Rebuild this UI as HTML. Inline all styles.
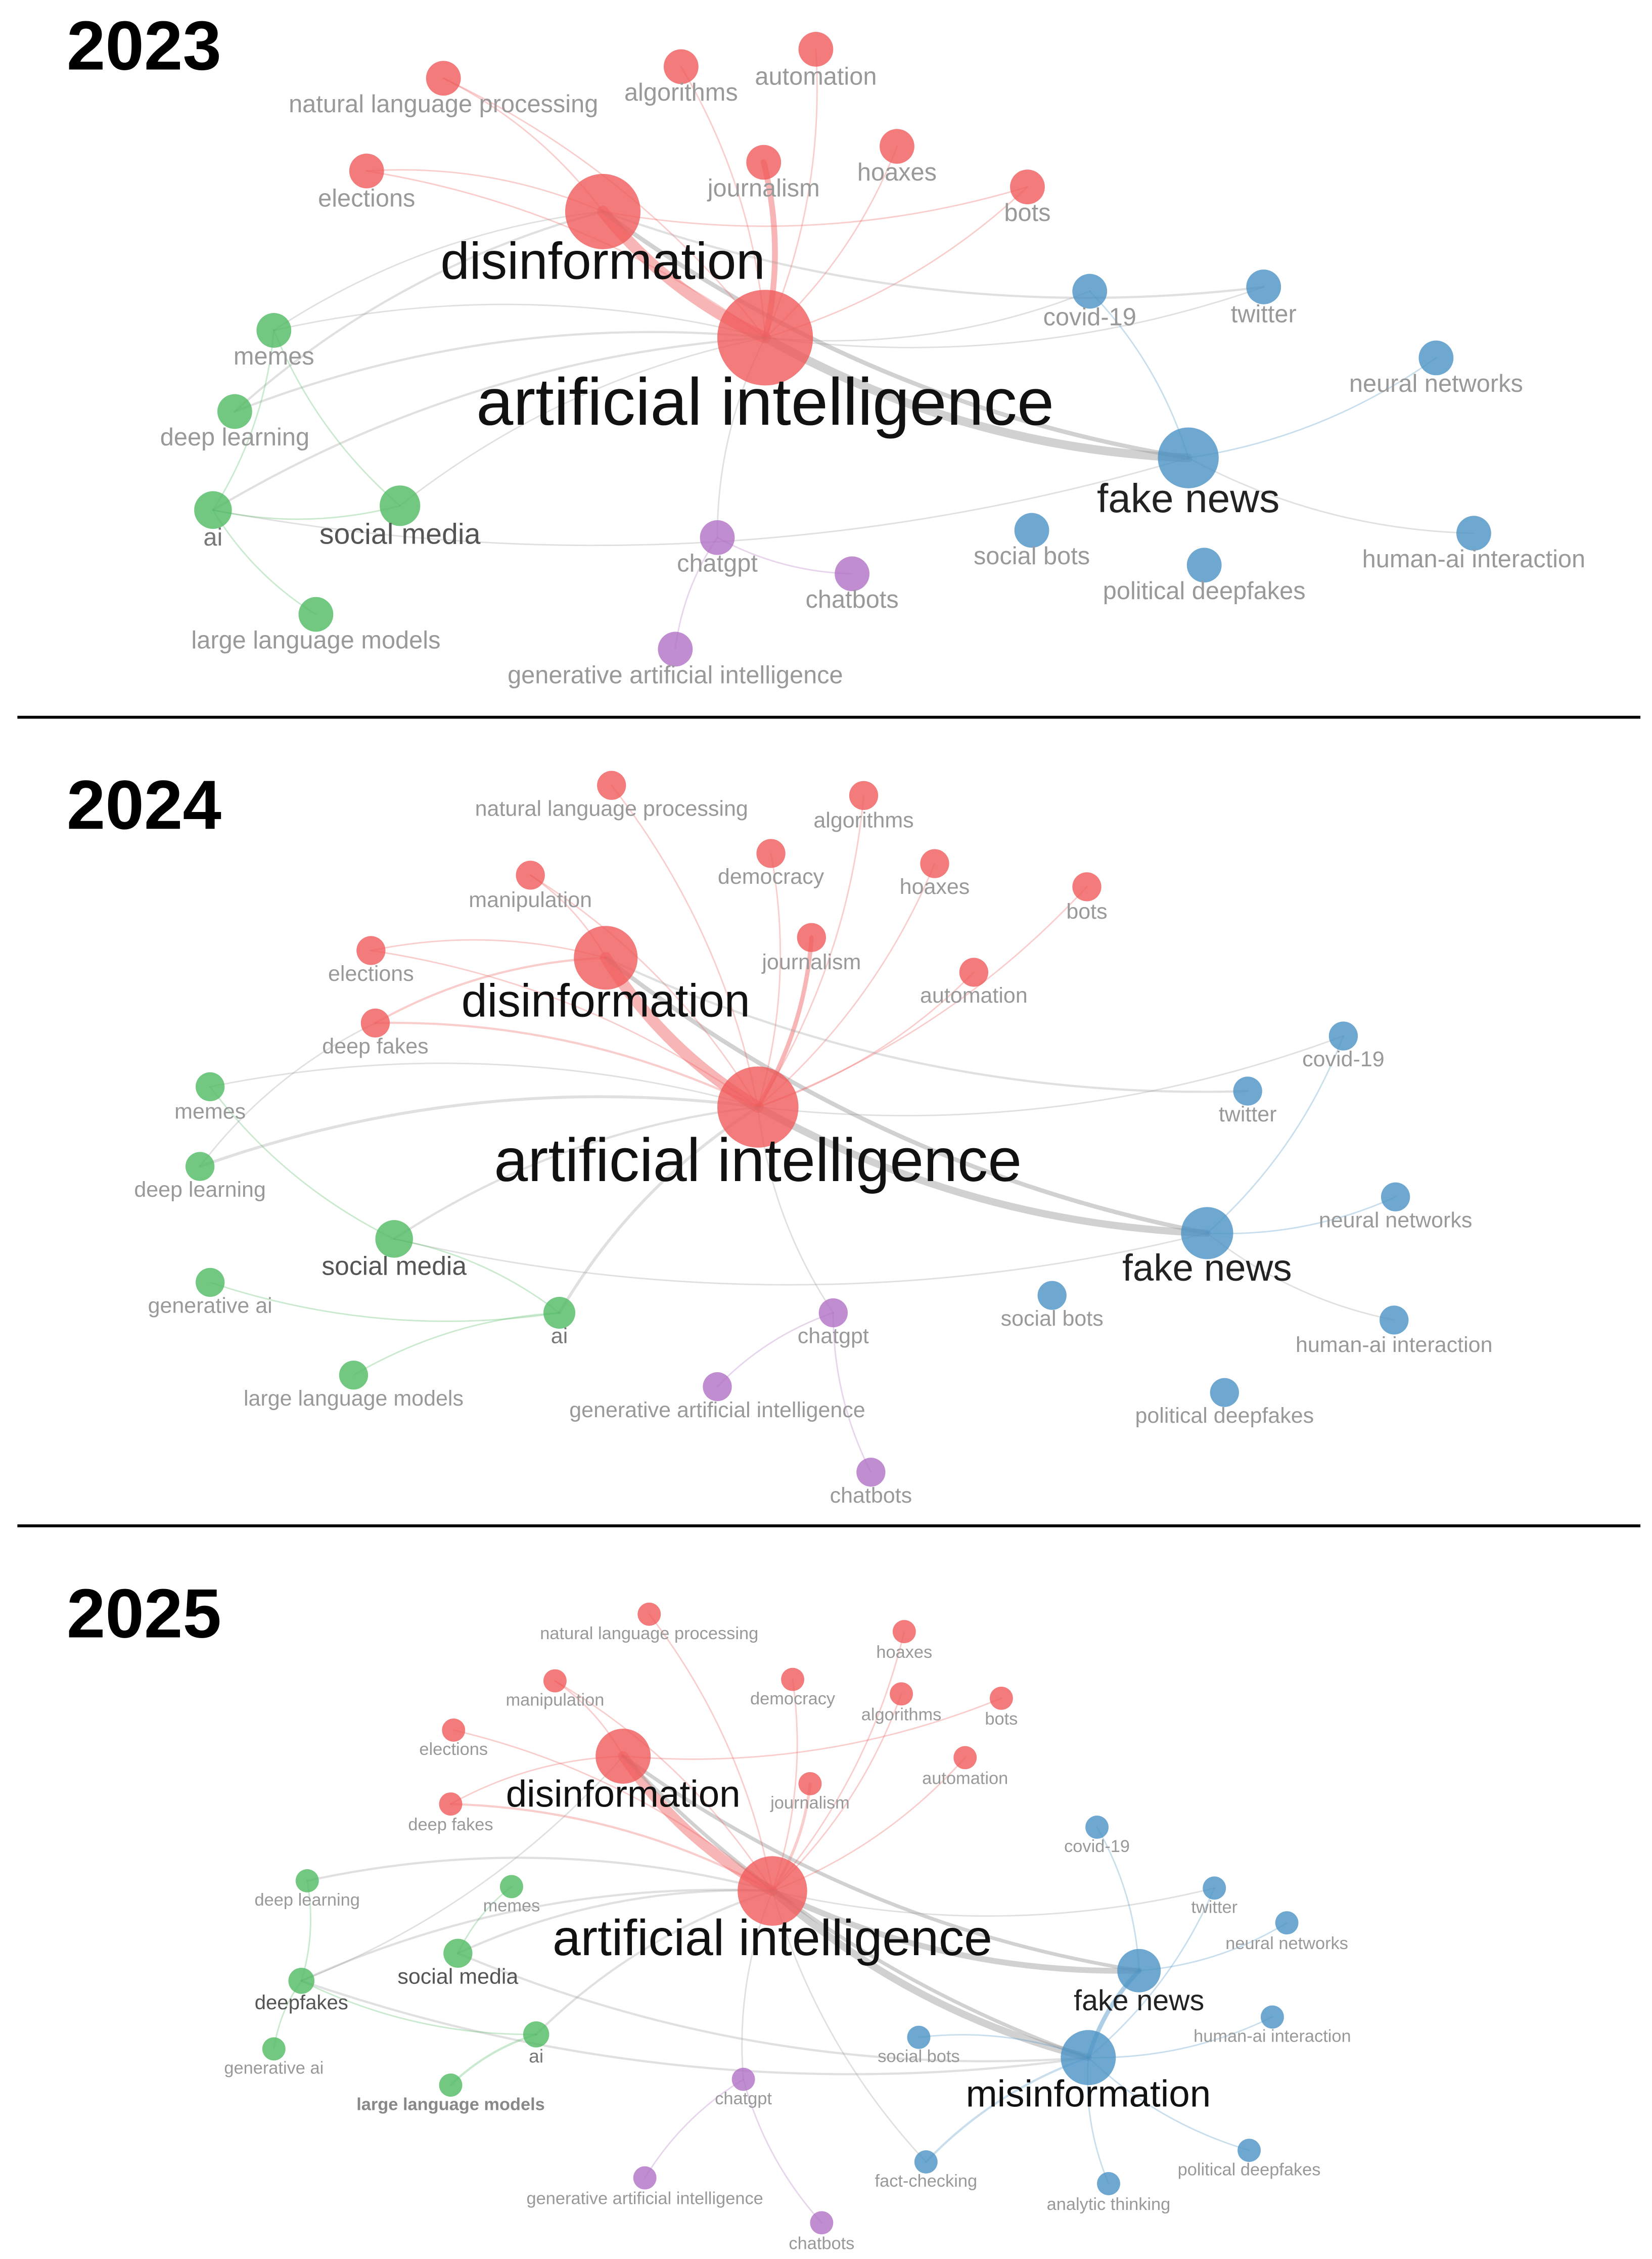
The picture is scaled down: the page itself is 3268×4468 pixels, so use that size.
<!DOCTYPE html>
<html><head><meta charset="utf-8">
<style>
html,body{margin:0;padding:0;background:#fff;}
svg{display:block;}
text{font-family:"Liberation Sans",Arial,sans-serif;}
</style></head>
<body>
<svg id="chart" width="3268" height="4468" viewBox="0 0 1140 1559" preserveAspectRatio="none" xmlns="http://www.w3.org/2000/svg">
<rect x="0" y="0" width="1140" height="1559" fill="#fff"/>
<g id="edges"></g><g id="nodes"></g><g id="labels"></g>
<line x1="12" y1="495" x2="1132" y2="495" stroke="#000" stroke-width="2"/>
<line x1="12" y1="1053" x2="1132" y2="1053" stroke="#000" stroke-width="2"/>
<text x="46" y="48" font-size="48" font-weight="bold">2023</text>
<text x="46" y="572" font-size="48" font-weight="bold">2024</text>
<text x="46" y="1130" font-size="48" font-weight="bold">2025</text>
</svg>
<script>
// cluster colors
const clusterColors = {r:"#f05a5a", b:"#4a92c4", g:"#4fba62", p:"#b070c4"};
const edgeColors = {r:"#f05a5a", b:"#4a92c4", g:"#4fba62", p:"#b070c4", n:"#999"};
// nodes: [label, x, y, radius, cluster, labelY, fontSize, labelColor]
const nodes2023 = [
 ["disinformation",416,146,26,"r",183,36,"#111"],
 ["artificial intelligence",528,233,33,"r",281,46,"#111"],
 ["fake news",820,316,21,"b",346,28,"#222"],
 ["natural language processing",306,54,12,"r",73,17,"#999"],
 ["algorithms",470,46,12,"r",65,17,"#999"],
 ["automation",563,34,12,"r",54,17,"#999"],
 ["elections",253,118,12,"r",138,17,"#999"],
 ["journalism",527,112,12,"r",131,17,"#999"],
 ["hoaxes",619,101,12,"r",120,17,"#999"],
 ["bots",709,129,12,"r",148,17,"#999"],
 ["covid-19",752,201,12,"b",220,17,"#999"],
 ["twitter",872,198,12,"b",218,17,"#999"],
 ["neural networks",991,247,12,"b",266,17,"#999"],
 ["human-ai interaction",1017,368,12,"b",387,17,"#999"],
 ["political deepfakes",831,390,12,"b",409,17,"#999"],
 ["social bots",712,366,12,"b",385,17,"#999"],
 ["chatgpt",495,371,12,"p",390,17,"#999"],
 ["chatbots",588,396,12,"p",415,17,"#999"],
 ["generative artificial intelligence",466,448,12,"p",467,17,"#999"],
 ["memes",189,228,12,"g",247,17,"#999"],
 ["deep learning",162,284,12,"g",303,17,"#999"],
 ["ai",147,352,13,"g",372,17,"#777"],
 ["social media",276,349,14,"g",370,20,"#555"],
 ["large language models",218,424,12,"g",443,17,"#999"]
];
const edges2023 = [
 ["disinformation","artificial intelligence",8,"r"],["artificial intelligence","journalism",4,"r"],
 ["artificial intelligence","fake news",6,"n"],["disinformation","fake news",3,"n"],
 ["artificial intelligence","natural language processing",1,"r"],["artificial intelligence","algorithms",1,"r"],
 ["artificial intelligence","automation",1,"r"],["artificial intelligence","elections",1,"r"],
 ["artificial intelligence","hoaxes",1,"r"],["artificial intelligence","bots",1,"r"],
 ["disinformation","natural language processing",1,"r"],["disinformation","elections",1,"r"],["disinformation","bots",1,"r"],
 ["disinformation","twitter",1.5,"n"],["artificial intelligence","covid-19",1,"n"],["artificial intelligence","twitter",1,"n"],
 ["artificial intelligence","deep learning",1.5,"n"],["artificial intelligence","ai",1.5,"n"],["artificial intelligence","memes",1,"n"],
 ["artificial intelligence","social media",1,"n"],["artificial intelligence","chatgpt",1,"n"],["ai","fake news",1,"n"],
 ["disinformation","memes",1,"n"],["disinformation","deep learning",1.5,"n"],["fake news","neural networks",1,"b"],
 ["fake news","human-ai interaction",1,"n"],["fake news","covid-19",1,"b"],["ai","large language models",1,"g"],
 ["ai","memes",1,"g"],["memes","social media",1,"g"],["chatgpt","chatbots",1,"p"],["chatgpt","generative artificial intelligence",1,"p"],
 ["ai","social media",1,"g"]
];
const nodes2024 = [
 ["disinformation",418,661,22,"r",693,32,"#111"],
 ["artificial intelligence",523,764,28,"r",804,42,"#111"],
 ["fake news",833,851,18,"b",877,26,"#222"],
 ["natural language processing",422,542,10,"r",559,15,"#999"],
 ["algorithms",596,549,10,"r",567,15,"#999"],
 ["democracy",532,589,10,"r",606,15,"#999"],
 ["hoaxes",645,596,10,"r",613,15,"#999"],
 ["manipulation",366,604,10,"r",622,15,"#999"],
 ["bots",750,612,10,"r",630,15,"#999"],
 ["journalism",560,647,10,"r",665,15,"#999"],
 ["automation",672,671,10,"r",688,15,"#999"],
 ["elections",256,656,10,"r",673,15,"#999"],
 ["deep fakes",259,706,10,"r",723,15,"#999"],
 ["covid-19",927,715,10,"b",732,15,"#999"],
 ["twitter",861,753,10,"b",770,15,"#999"],
 ["neural networks",963,826,10,"b",843,15,"#999"],
 ["human-ai interaction",962,911,10,"b",929,15,"#999"],
 ["political deepfakes",845,961,10,"b",978,15,"#999"],
 ["social bots",726,894,10,"b",911,15,"#999"],
 ["chatgpt",575,906,10,"p",923,15,"#999"],
 ["generative artificial intelligence",495,957,10,"p",974,15,"#999"],
 ["chatbots",601,1016,10,"p",1033,15,"#999"],
 ["memes",145,750,10,"g",768,15,"#999"],
 ["deep learning",138,805,10,"g",822,15,"#999"],
 ["social media",272,855,13,"g",875,18,"#555"],
 ["generative ai",145,885,10,"g",902,15,"#999"],
 ["ai",386,906,11,"g",923,15,"#777"],
 ["large language models",244,949,10,"g",966,15,"#999"]
];
const edges2024 = [
 ["disinformation","artificial intelligence",8,"r"],["artificial intelligence","journalism",3,"r"],
 ["artificial intelligence","fake news",5,"n"],["disinformation","fake news",3,"n"],
 ["artificial intelligence","natural language processing",1,"r"],["artificial intelligence","algorithms",1,"r"],
 ["artificial intelligence","democracy",1,"r"],["artificial intelligence","hoaxes",1,"r"],["artificial intelligence","manipulation",1,"r"],
 ["artificial intelligence","bots",1,"r"],["artificial intelligence","automation",1,"r"],["artificial intelligence","elections",1,"r"],
 ["artificial intelligence","deep fakes",1.5,"r"],["disinformation","deep fakes",1.5,"r"],["disinformation","elections",1,"r"],
 ["disinformation","manipulation",1,"r"],["disinformation","twitter",1.5,"n"],["artificial intelligence","covid-19",1,"n"],
 ["artificial intelligence","deep learning",2,"n"],["artificial intelligence","social media",1.5,"n"],["artificial intelligence","ai",2,"n"],
 ["artificial intelligence","memes",1,"n"],["artificial intelligence","chatgpt",1,"n"],["social media","fake news",1,"n"],
 ["fake news","neural networks",1,"b"],["fake news","covid-19",1,"b"],["fake news","human-ai interaction",1,"n"],
 ["ai","large language models",1,"g"],["ai","social media",1,"g"],["memes","social media",1,"g"],["generative ai","ai",1,"g"],
 ["chatgpt","chatbots",1,"p"],["chatgpt","generative artificial intelligence",1,"p"],["deep fakes","deep learning",1,"n"]
];
const nodes2025 = [
 ["disinformation",430,1212,19,"r",1240,26,"#111"],
 ["artificial intelligence",533,1305,24,"r",1340,35,"#111"],
 ["fake news",786,1360,15,"b",1382,20,"#222"],
 ["misinformation",751,1420,19,"b",1447,26,"#111"],
 ["natural language processing",448,1114,8,"r",1128,12,"#999"],
 ["hoaxes",624,1126,8,"r",1141,12,"#999"],
 ["manipulation",383,1160,8,"r",1174,12,"#999"],
 ["democracy",547,1159,8,"r",1173,12,"#999"],
 ["algorithms",622,1169,8,"r",1184,12,"#999"],
 ["bots",691,1172,8,"r",1187,12,"#999"],
 ["elections",313,1194,8,"r",1208,12,"#999"],
 ["automation",666,1213,8,"r",1228,12,"#999"],
 ["journalism",559,1231,8,"r",1245,12,"#999"],
 ["deep fakes",311,1245,8,"r",1260,12,"#999"],
 ["covid-19",757,1261,8,"b",1275,12,"#999"],
 ["twitter",838,1303,8,"b",1317,12,"#999"],
 ["neural networks",888,1327,8,"b",1342,12,"#999"],
 ["human-ai interaction",878,1392,8,"b",1406,12,"#999"],
 ["political deepfakes",862,1484,8,"b",1498,12,"#999"],
 ["analytic thinking",765,1507,8,"b",1522,12,"#999"],
 ["fact-checking",639,1492,8,"b",1506,12,"#999"],
 ["social bots",634,1406,8,"b",1420,12,"#999"],
 ["chatgpt",513,1435,8,"p",1449,12,"#999"],
 ["generative artificial intelligence",445,1503,8,"p",1518,12,"#999"],
 ["chatbots",567,1534,8,"p",1549,12,"#999"],
 ["deep learning",212,1298,8,"g",1312,12,"#999"],
 ["memes",353,1302,8,"g",1316,12,"#999"],
 ["social media",316,1348,10,"g",1365,15,"#555"],
 ["deepfakes",208,1367,9,"g",1383,14,"#555"],
 ["ai",370,1404,9,"g",1420,13,"#777"],
 ["generative ai",189,1414,8,"g",1428,12,"#999"],
 ["large language models",311,1439,8,"g",1453,12,"#888"]
];
const edges2025 = [
 ["disinformation","artificial intelligence",7,"r"],["artificial intelligence","journalism",2,"r"],
 ["artificial intelligence","fake news",4,"n"],["artificial intelligence","misinformation",5,"n"],
 ["disinformation","fake news",2.5,"n"],["disinformation","misinformation",2.5,"n"],["fake news","misinformation",3,"b"],
 ["artificial intelligence","natural language processing",1,"r"],["artificial intelligence","hoaxes",1,"r"],
 ["artificial intelligence","algorithms",1,"r"],["artificial intelligence","democracy",1,"r"],["artificial intelligence","automation",1,"r"],
 ["artificial intelligence","manipulation",1,"r"],["artificial intelligence","elections",1,"r"],["artificial intelligence","deep fakes",1.5,"r"],
 ["disinformation","deep fakes",1,"r"],["disinformation","manipulation",1,"r"],["disinformation","bots",1,"r"],
 ["artificial intelligence","deep learning",1.5,"n"],["artificial intelligence","deepfakes",1.5,"n"],["artificial intelligence","social media",1.5,"n"],
 ["artificial intelligence","ai",1.5,"n"],["artificial intelligence","twitter",1,"n"],["deepfakes","misinformation",1.5,"n"],
 ["social media","misinformation",1.5,"n"],["misinformation","fact-checking",1.5,"b"],["misinformation","twitter",1,"b"],
 ["misinformation","social bots",1,"b"],["misinformation","human-ai interaction",1,"b"],["misinformation","political deepfakes",1,"b"],
 ["misinformation","analytic thinking",1,"b"],["fake news","covid-19",1,"b"],["fake news","neural networks",1,"b"],
 ["ai","large language models",1.5,"g"],["deepfakes","ai",1,"g"],["deepfakes","deep learning",1,"g"],["deepfakes","generative ai",1,"g"],
 ["deepfakes","disinformation",1,"n"],["chatgpt","chatbots",1,"p"],["chatgpt","generative artificial intelligence",1,"p"],
 ["artificial intelligence","chatgpt",1,"n"],["artificial intelligence","fact-checking",1,"n"],["memes","social media",1,"g"]
];
const panels = [["2023",nodes2023,edges2023],["2024",nodes2024,edges2024],["2025",nodes2025,edges2025]];
const NS = "http://www.w3.org/2000/svg";
const gE = document.getElementById("edges"), gN = document.getElementById("nodes"), gL = document.getElementById("labels");
function slug(s){return s.toLowerCase().replace(/[^a-z0-9]+/g,"-");}
panels.forEach(([yr,nodes,edges])=>{
  const idx = {}; nodes.forEach(n=>idx[n[0]]=n);
  edges.forEach(([a,b,w,c])=>{
    const A=idx[a],B=idx[b]; if(!A||!B) return;
    const mx=(A[1]+B[1])/2,my=(A[2]+B[2])/2,dx=B[1]-A[1],dy=B[2]-A[2];
    const cx=mx-dy*0.12,cy=my+dx*0.12;
    const p=document.createElementNS(NS,"path");
    p.setAttribute("d",`M${A[1]},${A[2]} Q${cx},${cy} ${B[1]},${B[2]}`);
    p.setAttribute("fill","none");
    p.setAttribute("stroke",edgeColors[c]);
    p.setAttribute("stroke-width",w);
    p.setAttribute("stroke-opacity",w>2?0.45:0.3);
    p.setAttribute("stroke-linecap","round");
    
    
    gE.appendChild(p);
  });
  nodes.forEach(n=>{
    const c=document.createElementNS(NS,"circle");
    c.setAttribute("cx",n[1]);c.setAttribute("cy",n[2]);c.setAttribute("r",n[3]);
    c.setAttribute("fill",clusterColors[n[4]]);c.setAttribute("fill-opacity",0.8);
    
    
    gN.appendChild(c);
    const t=document.createElementNS(NS,"text");
    t.setAttribute("x",n[1]);t.setAttribute("y",n[5]);
    t.setAttribute("text-anchor","middle");t.setAttribute("dominant-baseline","middle");
    t.setAttribute("font-size",n[6]);t.setAttribute("fill",n[7]);
    if(n[0]==="large language models"&&yr==="2025") t.setAttribute("font-weight","bold");
    t.textContent=n[0];
    
    
    gL.appendChild(t);
  });
});
</script>
</body></html>
